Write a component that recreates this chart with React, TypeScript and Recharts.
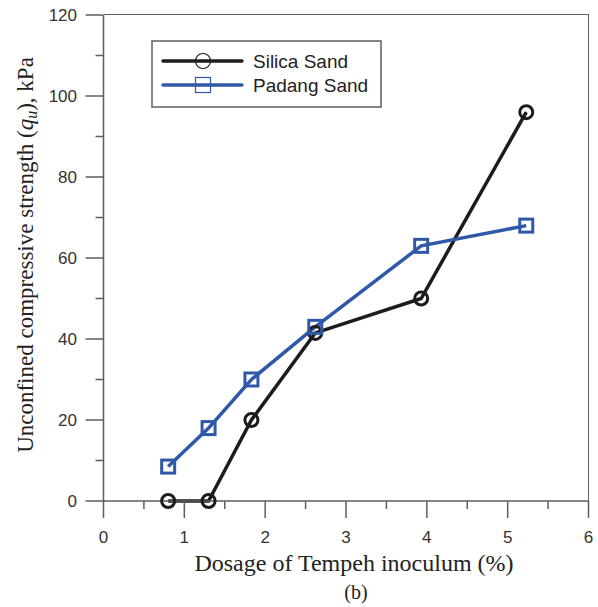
import React from 'react';
import { LineChart, Line, XAxis, YAxis, Legend } from 'recharts';

// Dosage of Tempeh inoculum (%)
const dosage = [0.8, 1.3, 1.83, 2.62, 3.93, 5.23];
// Unconfined compressive strength, kPa
const silicaSand = [0, 0, 20, 41.5, 50, 96];
const padangSand = [8.5, 18, 30, 43, 63, 68];

const xTicks = [0, 0.5, 1, 1.5, 2, 2.5, 3, 3.5, 4, 4.5, 5, 5.5, 6];
const yTicks = [0, 10, 20, 30, 40, 50, 60, 70, 80, 90, 100, 110, 120];

const CHART_W = 598;
const CHART_H = 607;
const MARGIN = { top: 15, right: 9.5, bottom: 0, left: 0 };
const Y_AXIS_W = 103.5;
const X_AXIS_H = 106;

const BLACK = '#1c1c1c';
const BLUE = '#2f58a8';
const AXIS = '#5e5e5e';
const SANS = '"Liberation Sans", Arial, sans-serif';
const SERIF = '"Liberation Serif", "Times New Roman", serif';

const data = dosage.map((x, i) => ({ x, silica: silicaSand[i], padang: padangSand[i] }));

const XTick = (props: any) => {
  const { x, y, payload } = props;
  const axisY = y - 30;
  const major = payload.value % 1 === 0;
  return (
    <g>
      <line x1={x} x2={x} y1={axisY} y2={axisY + (major ? 17 : 8)} stroke={AXIS} strokeWidth={1.5} />
      {major && (
        <text x={x} y={y} dy="0.71em" textAnchor="middle" fontSize={17} fill="#333" fontFamily={SANS}>
          {payload.value}
        </text>
      )}
    </g>
  );
};

const YTick = (props: any) => {
  const { x, y, payload } = props;
  const axisX = x + 26.5;
  const major = payload.value % 20 === 0;
  return (
    <g>
      <line x1={axisX - (major ? 18 : 8)} x2={axisX} y1={y} y2={y} stroke={AXIS} strokeWidth={1.5} />
      {major && (
        <text x={x} y={y} dy="0.355em" textAnchor="end" fontSize={17} fill="#333" fontFamily={SANS}>
          {payload.value}
        </text>
      )}
    </g>
  );
};

const XTitle = (props: any) => {
  const { x, y, width } = props.viewBox;
  const cx = x + width / 2 + 8;
  return (
    <g fontFamily={SERIF} fill="#222" textAnchor="middle">
      <text x={cx} y={y + 70} fontSize={24}>Dosage of Tempeh inoculum (%)</text>
      <text x={cx + 2} y={y + 98} fontSize={20}>(b)</text>
    </g>
  );
};

const YTitle = (props: any) => {
  const { y, height } = props.viewBox;
  const cy = y + height / 2 - 3;
  return (
    <text transform={`translate(33, ${cy}) rotate(-90)`} textAnchor="middle" fontFamily={SERIF} fontSize={23} fill="#222">
      Unconfined compressive strength (<tspan fontStyle="italic">q</tspan>
      <tspan fontStyle="italic" fontSize={16} dy={4}>u</tspan>
      <tspan dy={-4}>), kPa</tspan>
    </text>
  );
};

const SquareDot = (props: any) => {
  const { cx, cy, index } = props;
  if (cx == null || cy == null) return <g key={`sq-${index}`} />;
  return <rect key={`sq-${index}`} x={cx - 6.5} y={cy - 6.5} width={13} height={13} fill="none" stroke={BLUE} strokeWidth={3} />;
};

const legendItems = [
  { name: 'Silica Sand', color: BLACK, marker: 'circle' },
  { name: 'Padang Sand', color: BLUE, marker: 'square' },
];

const ChartLegend = () => (
  <svg width={231} height={68}>
    <rect x={1} y={1} width={229} height={66} fill="#fff" stroke={AXIS} strokeWidth={1.5} />
    {legendItems.map((item, i) => {
      const cy = 21 + i * 24;
      return (
        <g key={item.name}>
          <line x1={12} x2={91} y1={cy} y2={cy} stroke={item.color} strokeWidth={3.5} strokeLinecap="round" />
          {item.marker === 'circle' ? (
            <circle cx={52} cy={cy} r={7.5} fill="none" stroke={item.color} strokeWidth={1.2} />
          ) : (
            <rect x={44.5} y={cy - 7.5} width={15} height={15} fill="none" stroke={item.color} strokeWidth={1.2} />
          )}
          <text x={102} y={cy} dy="0.36em" fontSize={19} fontFamily={SANS} fill="#222">
            {item.name}
          </text>
        </g>
      );
    })}
  </svg>
);

// top and right edges of the box around the plot area
const frameStyle: React.CSSProperties = {
  position: 'absolute',
  left: MARGIN.left + Y_AXIS_W,
  top: MARGIN.top - 0.75,
  width: CHART_W - MARGIN.left - MARGIN.right - Y_AXIS_W + 0.75,
  height: CHART_H - MARGIN.top - MARGIN.bottom - X_AXIS_H + 0.75,
  borderTop: `1.5px solid ${AXIS}`,
  borderRight: `1.5px solid ${AXIS}`,
  boxSizing: 'border-box',
  pointerEvents: 'none',
};

export default function App() {
  return (
    <div style={{ position: 'absolute', left: 0, top: 0, width: CHART_W, height: CHART_H, background: '#fff' }}>
      <LineChart width={CHART_W} height={CHART_H} data={data} margin={MARGIN}>
        <XAxis
          dataKey="x"
          type="number"
          domain={[0, 6]}
          ticks={xTicks}
          interval={0}
          height={X_AXIS_H}
          tickSize={18}
          tickMargin={12}
          tickLine={false}
          tick={<XTick />}
          axisLine={{ stroke: AXIS, strokeWidth: 1.5 }}
          label={<XTitle />}
        />
        <YAxis
          type="number"
          domain={[0, 120]}
          ticks={yTicks}
          interval={0}
          width={Y_AXIS_W}
          tickSize={18}
          tickMargin={8.5}
          tickLine={false}
          tick={<YTick />}
          axisLine={{ stroke: AXIS, strokeWidth: 1.5 }}
          label={<YTitle />}
        />
        <Legend
          layout="vertical"
          align="center"
          verticalAlign="middle"
          content={<ChartLegend />}
          wrapperStyle={{ left: 151, top: 40, width: 231, height: 68 }}
        />
        <Line
          dataKey="silica"
          name="Silica Sand"
          stroke={BLACK}
          strokeWidth={3.5}
          dot={{ r: 6.5, fill: 'none', stroke: BLACK, strokeWidth: 3 }}
          isAnimationActive={false}
        />
        <Line
          dataKey="padang"
          name="Padang Sand"
          stroke={BLUE}
          strokeWidth={3.5}
          dot={SquareDot}
          isAnimationActive={false}
        />
      </LineChart>
      <div style={frameStyle} />
    </div>
  );
}
